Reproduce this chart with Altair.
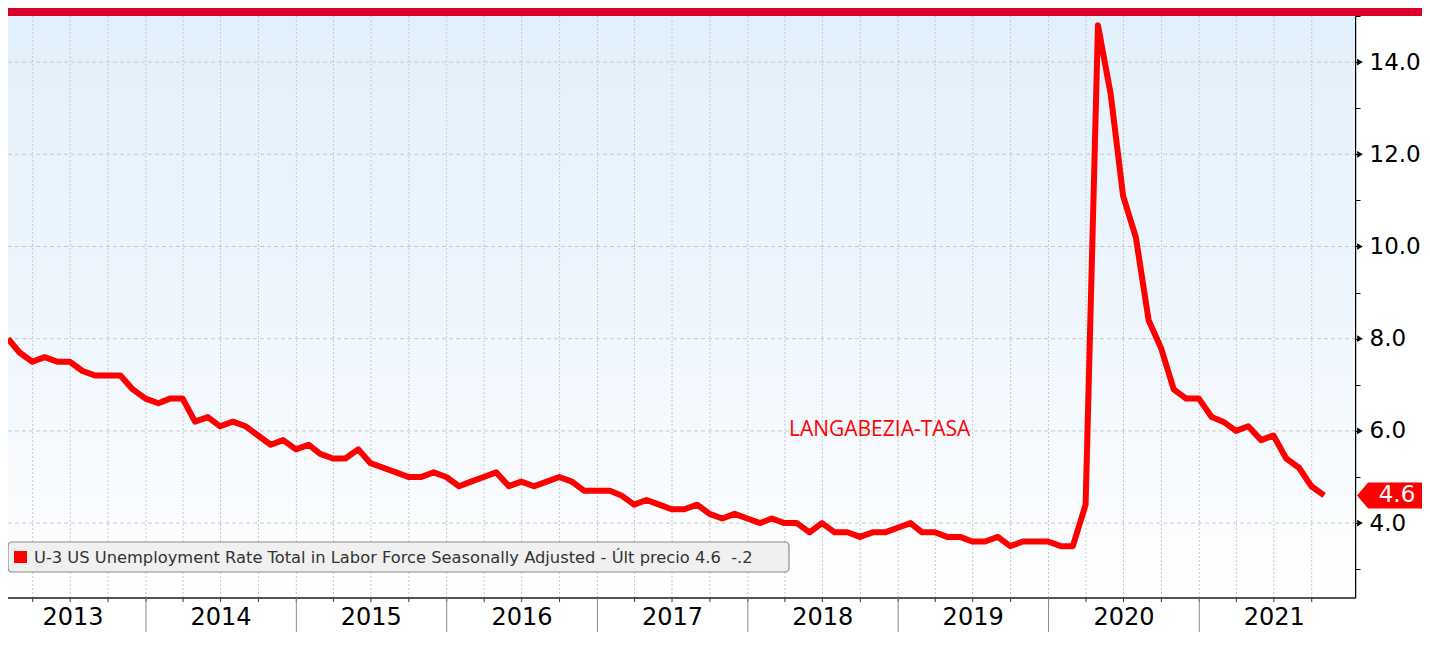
import altair as alt
import pandas as pd

# ---------------- data ----------------
rate_2013 = [8.0, 7.7, 7.5, 7.6, 7.5, 7.5, 7.3, 7.2, 7.2, 7.2, 6.9, 6.7]
rate_2014 = [6.6, 6.7, 6.7, 6.2, 6.3, 6.1, 6.2, 6.1, 5.9, 5.7, 5.8, 5.6]
rate_2015 = [5.7, 5.5, 5.4, 5.4, 5.6, 5.3, 5.2, 5.1, 5.0, 5.0, 5.1, 5.0]
rate_2016 = [4.8, 4.9, 5.0, 5.1, 4.8, 4.9, 4.8, 4.9, 5.0, 4.9, 4.7, 4.7]
rate_2017 = [4.7, 4.6, 4.4, 4.5, 4.4, 4.3, 4.3, 4.4, 4.2, 4.1, 4.2, 4.1]
rate_2018 = [4.0, 4.1, 4.0, 4.0, 3.8, 4.0, 3.8, 3.8, 3.7, 3.8, 3.8, 3.9]
rate_2019 = [4.0, 3.8, 3.8, 3.7, 3.7, 3.6, 3.6, 3.7, 3.5, 3.6, 3.6, 3.6]
rate_2020 = [3.5, 3.5, 4.4, 14.8, 13.3, 11.1, 10.2, 8.4, 7.8, 6.9, 6.7, 6.7]
rate_2021 = [6.3, 6.2, 6.0, 6.1, 5.8, 5.9, 5.4, 5.2, 4.8, 4.6]

year_labels = ["2013", "2014", "2015", "2016", "2017", "2018", "2019", "2020", "2021"]
year_label_dates = ["2013-07-08", "2014-07-02", "2015-07-02", "2016-07-02", "2017-07-02",
                    "2018-07-02", "2019-07-02", "2020-07-02", "2021-07-02"]
year_starts = ["2014-01-01", "2015-01-01", "2016-01-01", "2017-01-01",
               "2018-01-01", "2019-01-01", "2020-01-01", "2021-01-01"]
y_grid_values = [4, 6, 8, 10, 12, 14]
y_axis_values = [3, 4, 5, 6, 7, 8, 9, 10, 11, 12, 13, 14, 15]

last_value = 4.6
last_label = "4.6"
legend_text = "U-3 US Unemployment Rate Total in Labor Force Seasonally Adjusted - Últ precio 4.6\u00a0\u00a0-.2"
annotation_text = "LANGABEZIA-TASA"
annotation_date = "2018-11-17"
annotation_value = 6.03

# ---------------- tables ----------------
rates = (rate_2013 + rate_2014 + rate_2015 + rate_2016 + rate_2017 +
         rate_2018 + rate_2019 + rate_2020 + rate_2021)
dates = pd.date_range("2013-01-31", periods=len(rates), freq="ME").strftime("%Y-%m-%d")
series = pd.DataFrame({"date": dates, "rate": rates})

quarters = pd.date_range("2013-04-01", "2021-10-01", freq="QS").strftime("%Y-%m-%d")
quarter_df = pd.DataFrame({"date": quarters})
sep_df = pd.DataFrame({"date": year_starts})
ylab_df = pd.DataFrame({"date": year_label_dates, "label": year_labels})
hgrid_df = pd.DataFrame({"v": y_grid_values})
last_df = pd.DataFrame({"v": [last_value], "label": [last_label]})
ann_df = pd.DataFrame({"date": [annotation_date], "v": [annotation_value], "label": [annotation_text]})
one = pd.DataFrame({"a": [0]})

# ---------------- layout ----------------
W, H = 1347, 582
FONT = "DejaVu Sans"

xscale = alt.Scale(type="utc", domain=[alt.DateTime(year=2013, month=1, date=31, utc=True),
                                        alt.DateTime(year=2022, month=1, date=14, utc=True)], nice=False)
yscale = alt.Scale(domain=[2.375, 15.0], nice=False, zero=False)
yaxis = alt.Axis(orient="right", values=y_axis_values,
                 labelExpr="datum.value % 2 == 0 ? format(datum.value, '.1f') : ''",
                 labelFont=FONT, labelFontSize=23, labelColor="#000000",
                 tickColor="#000000", tickSize=5, tickWidth=1,
                 domainColor="#000000", domainWidth=1.5, labelPadding=9,
                 grid=False, title=None, labelOverlap=False)


def X(field):
    return alt.X(field, type="temporal", scale=xscale, axis=None)


def Y(field):
    return alt.Y(field, type="quantitative", scale=yscale, axis=yaxis)


bg = alt.Chart(one).mark_rect(
    color=alt.Gradient(gradient="linear", x1=0, x2=0, y1=0, y2=1,
                       stops=[alt.GradientStop(color="#E2F0FB", offset=0),
                              alt.GradientStop(color="#EEF6FD", offset=0.5),
                              alt.GradientStop(color="#FFFFFF", offset=1)])
).encode(x=alt.value(0), x2=alt.value(W), y=alt.value(0), y2=alt.value(H))

topbar = alt.Chart(one).mark_rect(color="#DA0029").encode(
    x=alt.value(0), x2=alt.value(W + 90), y=alt.value(-8), y2=alt.value(0))

hgrid = alt.Chart(hgrid_df).mark_rule(color="#C8C8C8", strokeDash=[4, 3], strokeWidth=1).encode(
    y=Y("v"), x=alt.value(0), x2=alt.value(W))

vgrid = alt.Chart(quarter_df).mark_rule(color="#C8C8C8", strokeDash=[2, 2], strokeWidth=1).encode(
    x=X("date"), y=alt.value(0), y2=alt.value(H))

xline = alt.Chart(one).mark_rule(color="#555555", strokeWidth=2).encode(
    x=alt.value(0), x2=alt.value(W), y=alt.value(H))

qticks = alt.Chart(quarter_df).mark_rule(color="#333333", strokeWidth=1).encode(
    x=X("date"), y=alt.value(H), y2=alt.value(H + 4))

seps = alt.Chart(sep_df).mark_rule(color="#8A8A8A", strokeWidth=1).encode(
    x=X("date"), y=alt.value(H), y2=alt.value(H + 60))

ylabels = alt.Chart(ylab_df).mark_text(font=FONT, fontSize=24, color="#000000",
                                       align="center", baseline="alphabetic").encode(
    x=X("date"), y=alt.value(H + 27), text="label:N")

legend_box = alt.Chart(one).mark_rect(fill="#F0F0F0", stroke="#8C8C8C", strokeWidth=1.2,
                                      cornerRadius=4).encode(
    x=alt.value(0), x2=alt.value(781), y=alt.value(526), y2=alt.value(556))

legend_swatch = alt.Chart(one).mark_rect(color="#FF0000").encode(
    x=alt.value(6), x2=alt.value(19), y=alt.value(535), y2=alt.value(547))

legend_label = alt.Chart(one).mark_text(font=FONT, fontSize=16.3, color="#333333",
                                        align="left", baseline="alphabetic",
                                        text=legend_text).encode(
    x=alt.value(26), y=alt.value(547))

line = alt.Chart(series).mark_line(color="#FF0000", strokeWidth=6, strokeJoin="round").encode(
    x=X("date"), y=Y("rate"))

annotation = alt.Chart(ann_df).mark_text(font="Open Sans", fontSize=21, color="#FF0000",
                                         align="center", baseline="middle").encode(
    x=X("date"), y=Y("v"), text="label:N")

tri = alt.Chart(hgrid_df).mark_point(shape="triangle-right", filled=True, color="#000000",
                                     size=45, opacity=1).encode(
    x=alt.value(W + 5), y=Y("v"))

tag = alt.Chart(last_df).mark_point(
    shape="M -1 0 L -0.7 -0.351 L 1 -0.351 L 1 0.351 L -0.7 0.351 Z",
    filled=True, color="#FF0000", size=5476, opacity=1, strokeWidth=0
).encode(x=alt.value(W + 39), y=Y("v"))

tag_text = alt.Chart(last_df).mark_text(font=FONT, fontSize=23, color="#FFFFFF",
                                        align="center", baseline="middle").encode(
    x=alt.value(W + 42), y=Y("v"), text="label:N")

chart = alt.layer(
    bg, topbar, hgrid, vgrid, xline, qticks, seps, ylabels,
    line, legend_box, legend_swatch, legend_label, annotation, tri, tag, tag_text
).properties(
    width=W, height=H,
    padding={"left": 0, "top": 8, "right": 67, "bottom": 34},
    autosize=alt.AutoSizeParams(type="none"),
    background="#FFFFFF",
).configure_view(stroke=None)

chart.save("out.html", embed_options={"renderer": "svg", "actions": False})
